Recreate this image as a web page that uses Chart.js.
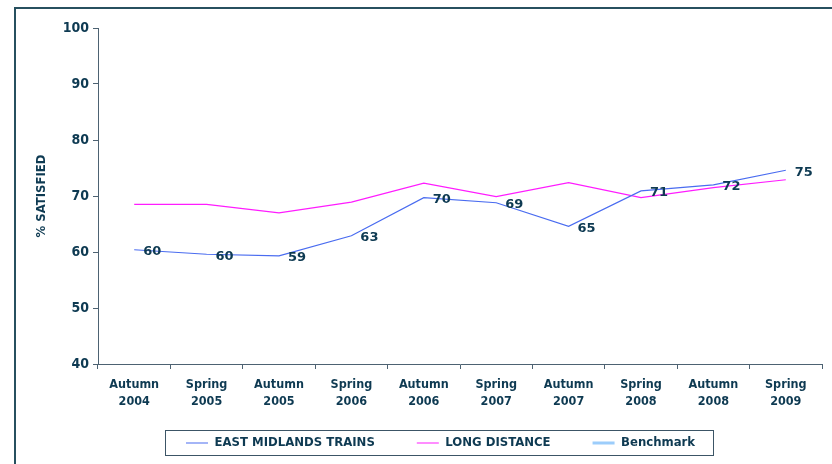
<!DOCTYPE html>
<html>
<head>
<meta charset="utf-8">
<script src="https://cdn.jsdelivr.net/npm/chart.js@4/dist/chart.umd.min.js"></script>
<style>
html,body{margin:0;padding:0;background:#fff;}
#wrap{width:832px;height:464px;position:relative;}
</style>
</head>
<body>
<div id="wrap"><canvas id="c" width="832" height="464"></canvas></div>
<script>
const categories = [["Autumn","2004"],["Spring","2005"],["Autumn","2005"],["Spring","2006"],["Autumn","2006"],["Spring","2007"],["Autumn","2007"],["Spring","2008"],["Autumn","2008"],["Spring","2009"]];
const eastMidlands = [60.4, 59.6, 59.3, 62.9, 69.7, 68.8, 64.6, 70.9, 72.0, 74.6];
const longDistance = [68.5, 68.5, 67.0, 68.9, 72.3, 69.9, 72.4, 69.7, 71.5, 72.9];
const benchmark = [null, null, null, null, null, null, null, null, null, null];
const yTicks = [40, 50, 60, 70, 80, 90, 100];

const TXT = '#0e3a52';
const AXIS = '#4d6272';
const COND = '"DejaVu Sans Condensed", "DejaVu Sans", sans-serif';

const framePlugin = {
  id: 'frame',
  beforeDraw(chart) {
    const ctx = chart.ctx;
    ctx.save();
    ctx.strokeStyle = '#27505f';
    ctx.lineWidth = 2;
    ctx.beginPath();
    ctx.moveTo(15, 464);
    ctx.lineTo(15, 8);
    ctx.lineTo(832, 8);
    ctx.stroke();
    ctx.restore();
  }
};

const valueLabels = {
  id: 'valueLabels',
  afterDatasetsDraw(chart) {
    const ctx = chart.ctx;
    const meta = chart.getDatasetMeta(0);
    const data = chart.data.datasets[0].data;
    ctx.save();
    ctx.font = 'bold 13px "DejaVu Sans", sans-serif';
    ctx.fillStyle = TXT;
    ctx.textAlign = 'center';
    ctx.textBaseline = 'middle';
    meta.data.forEach((pt, i) => {
      ctx.fillText(String(Math.round(data[i])), pt.x + 18, pt.y + 2);
    });
    ctx.restore();
  }
};

const legendBox = {
  id: 'legendBox',
  afterLayout(chart) {
    const lg = chart.legend;
    if (!lg || !lg.lineWidths) return;
    const pad = lg.options.labels.padding;
    const startX = (lg.left + pad + lg.right - lg.lineWidths[0]) / 2;
    const shift = 186 - startX;
    lg.left += shift; lg.right += shift;
    lg.top = 443 - 6.5 - pad;
    lg.bottom = 464;
    lg.height = lg.bottom - lg.top;
  },
  afterDraw(chart) {
    const lg = chart.legend;
    if (!lg || !lg.legendHitBoxes || !lg.legendHitBoxes.length) return;
    const hb = lg.legendHitBoxes;
    const l = hb[0].left - 21;
    const r = hb[hb.length - 1].left + hb[hb.length - 1].width + 18;
    const ctx = chart.ctx;
    ctx.save();
    ctx.strokeStyle = '#3c5566';
    ctx.lineWidth = 1;
    ctx.strokeRect(Math.round(l) + 0.5, 430.5, Math.round(r - l), 25);
    ctx.restore();
  }
};

new Chart(document.getElementById('c'), {
  type: 'line',
  data: {
    labels: categories,
    datasets: [
      { label: 'EAST MIDLANDS TRAINS', data: eastMidlands, borderColor: '#4a6cf0', backgroundColor: '#4a6cf0', borderWidth: 1.2, pointRadius: 0, tension: 0 },
      { label: 'LONG DISTANCE', data: longDistance, borderColor: '#ff1cff', backgroundColor: '#ff1cff', borderWidth: 1.2, pointRadius: 0, tension: 0 },
      { label: 'Benchmark', data: benchmark, borderColor: '#9ccdfb', backgroundColor: '#9ccdfb', borderWidth: 3, pointRadius: 0 }
    ]
  },
  options: {
    responsive: false,
    animation: false,
    layout: { padding: { top: 28, right: 10, left: 0, bottom: 4 } },
    plugins: {
      legend: {
        position: 'bottom',
        maxHeight: 40,
        labels: {
          usePointStyle: true,
          pointStyle: 'line',
          pointStyleWidth: 22,
          boxWidth: 22,
          padding: 42,
          color: TXT,
          font: { family: COND, size: 13, weight: 'bold' }
        }
      },
      tooltip: { enabled: false }
    },
    scales: {
      x: {
        type: 'category',
        offset: true,
        grid: { offset: true, drawOnChartArea: false, drawTicks: true, tickLength: 5, color: AXIS },
        border: { display: true, color: AXIS, width: 1 },
        ticks: { color: TXT, font: { family: COND, size: 12.5, weight: 'bold', lineHeight: 1.3 }, maxRotation: 0, autoSkip: false, padding: 8 },
        afterFit(s) { s.height = 56; }
      },
      y: {
        min: 40, max: 100,
        afterBuildTicks(s) { s.ticks = yTicks.map(v => ({ value: v })); },
        grid: { drawOnChartArea: false, drawTicks: true, tickLength: 5, color: AXIS },
        border: { display: true, color: AXIS, width: 1 },
        ticks: { color: TXT, font: { family: COND, size: 14, weight: 'bold' }, padding: 4 },
        title: { display: true, text: '% SATISFIED', color: TXT, font: { family: COND, size: 13, weight: 'bold' }, padding: { top: 34, bottom: 0 } },
        afterFit(s) { s.width = 98; }
      }
    }
  },
  plugins: [framePlugin, valueLabels, legendBox]
});
</script>
</body>
</html>
